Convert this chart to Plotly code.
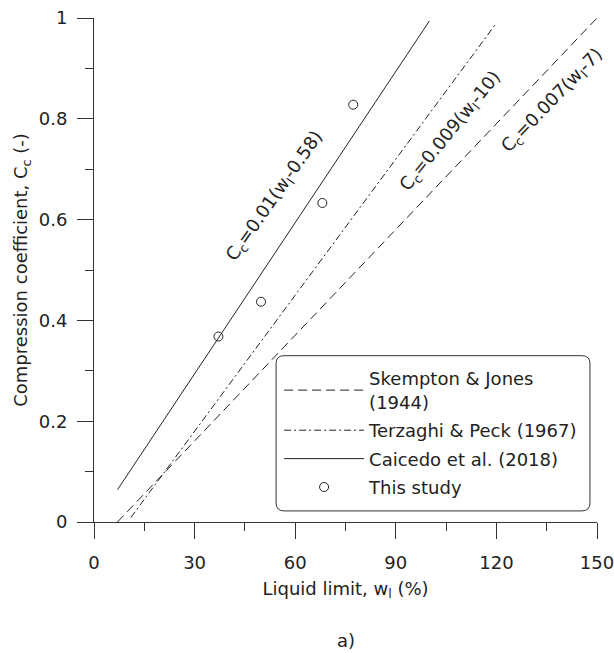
import plotly.graph_objects as go

# ---- data ----
study_wl = [37.1, 49.8, 68.1, 77.3]
study_cc = [0.368, 0.437, 0.633, 0.828]

skempton_wl = [7, 150]
skempton_cc = [0.0, 1.0]

terzaghi_wl = [11, 120]
terzaghi_cc = [0.009, 0.99]

caicedo_wl = [7, 100]
caicedo_cc = [0.064, 0.994]

x_ticks = [0, 30, 60, 90, 120, 150]
y_ticks = [0, 0.2, 0.4, 0.6, 0.8, 1.0]
y_tick_text = ["0", "0.2", "0.4", "0.6", "0.8", "1"]

FONT = "DejaVu Sans"
FS = 18
INK = "#222222"
AX = "#333333"

fig = go.Figure()
fig.add_trace(go.Scatter(x=skempton_wl, y=skempton_cc, mode="lines",
                         name="Skempton & Jones<br>(1944)", legendgroup="a",
                         line=dict(color=INK, width=1, dash="9px,5px")))
fig.add_trace(go.Scatter(x=terzaghi_wl, y=terzaghi_cc, mode="lines",
                         name="Terzaghi & Peck (1967)", legendgroup="b",
                         line=dict(color=INK, width=1, dash="7px,3px,2px,3px")))
fig.add_trace(go.Scatter(x=caicedo_wl, y=caicedo_cc, mode="lines",
                         name="Caicedo et al. (2018)", legendgroup="c",
                         line=dict(color=INK, width=1)))
fig.add_trace(go.Scatter(x=study_wl, y=study_cc, mode="markers",
                         name="This study", legendgroup="d",
                         marker=dict(symbol="circle-open", size=9,
                                     color=INK, line=dict(width=1, color=INK))))

# rounded legend frame
x0, x1, y0, y1, r = 0.362, 0.986, 0.022, 0.330, 0.016
path = (f"M {x0+r},{y1} L {x1-r},{y1} Q {x1},{y1} {x1},{y1-r} "
        f"L {x1},{y0+r} Q {x1},{y0} {x1-r},{y0} L {x0+r},{y0} "
        f"Q {x0},{y0} {x0},{y0+r} L {x0},{y1-r} Q {x0},{y1} {x0+r},{y1} Z")
fig.add_shape(type="path", path=path, xref="paper", yref="paper",
              line=dict(color=AX, width=1), fillcolor="white", layer="above")

ann_font = dict(family=FONT, size=FS, color=INK)
fig.add_annotation(x=54.0, y=0.647, xref="x", yref="y", showarrow=False,
                   text="C<sub>c</sub>=0.01(w<sub>l</sub>-0.58)",
                   textangle=-55, font=ann_font)
fig.add_annotation(x=106.5, y=0.775, xref="x", yref="y", showarrow=False,
                   text="C<sub>c</sub>=0.009(w<sub>l</sub>-10)",
                   textangle=-51, font=ann_font)
fig.add_annotation(x=136.6, y=0.836, xref="x", yref="y", showarrow=False,
                   text="C<sub>c</sub>=0.007(w<sub>l</sub>-7)",
                   textangle=-46, font=ann_font)
fig.add_annotation(x=0.501, y=-0.236, xref="paper", yref="paper", showarrow=False,
                   xanchor="center", yanchor="middle",
                   text="a)", font=ann_font)

fig.update_layout(
    width=614, height=653,
    margin=dict(l=94, r=17, t=18, b=131),
    paper_bgcolor="white", plot_bgcolor="white",
    font=dict(family=FONT, size=FS, color=INK),
    showlegend=True,
    legend=dict(x=0.368, y=0.321, xanchor="left", yanchor="top",
                bgcolor="rgba(0,0,0,0)", borderwidth=0,
                traceorder="grouped", tracegroupgap=2,
                itemwidth=80, font=dict(family=FONT, size=FS, color=INK)),
)
fig.update_xaxes(range=[0, 150], tickvals=x_ticks, showgrid=False, zeroline=False,
                 automargin=False, ticklabeloverflow="allow",
                 showline=True, linecolor=AX, linewidth=1,
                 ticks="outside", ticklen=16, tickcolor=AX, tickwidth=1,
                 ticklabelstandoff=8,
                 minor=dict(ticks="outside", ticklen=8, dtick=15, tickcolor=AX),
                 title=dict(text="Liquid limit, w<sub>l</sub> (%)", standoff=10,
                            font=dict(family=FONT, size=FS, color=INK)))
fig.update_yaxes(range=[0, 1], tickvals=y_ticks, ticktext=y_tick_text,
                 showgrid=False, zeroline=False, automargin=False,
                 ticklabeloverflow="allow",
                 showline=True, linecolor=AX, linewidth=1,
                 ticks="outside", ticklen=16, tickcolor=AX, tickwidth=1,
                 ticklabelstandoff=6,
                 minor=dict(ticks="outside", ticklen=8, dtick=0.1, tickcolor=AX),
                 title=dict(text="Compression coefficient, C<sub>c</sub> (-)", standoff=6,
                            font=dict(family=FONT, size=FS, color=INK)))

fig.write_html("out.html")
